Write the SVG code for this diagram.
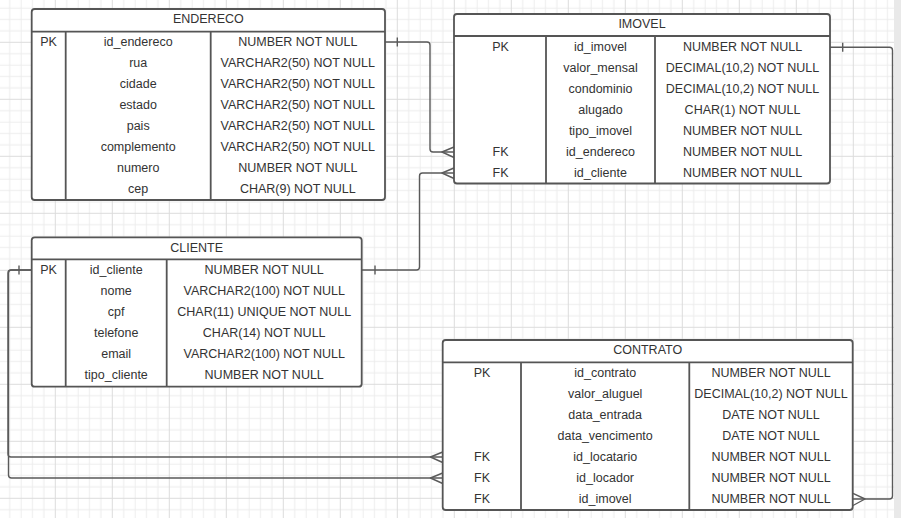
<svg xmlns="http://www.w3.org/2000/svg" width="901" height="518" viewBox="0 0 901 518">
<style>
.bg{fill:#ffffff}
.tbl{fill:#ffffff;stroke:#555555;stroke-width:1.8}
.div{stroke:#555555;stroke-width:1.8;fill:none}
.t{font-family:"Liberation Sans",Arial,sans-serif;font-size:12.5px;fill:#333333;text-anchor:middle}
.c{fill:none;stroke:#5a5a5a;stroke-width:1.4;stroke-linejoin:round}
.gmin{stroke:#ececec;stroke-width:1}
.gmaj{stroke:#dcdcdc;stroke-width:1}
</style>
<defs>
<pattern id="grid" patternUnits="userSpaceOnUse" x="-2.2" y="-15.2" width="57" height="57">
<line class="gmin" x1="11.9" y1="0" x2="11.9" y2="57"/>
<line class="gmin" x1="23.3" y1="0" x2="23.3" y2="57"/>
<line class="gmin" x1="34.7" y1="0" x2="34.7" y2="57"/>
<line class="gmin" x1="46.1" y1="0" x2="46.1" y2="57"/>
<line class="gmin" x1="0" y1="11.9" x2="57" y2="11.9"/>
<line class="gmin" x1="0" y1="23.3" x2="57" y2="23.3"/>
<line class="gmin" x1="0" y1="34.7" x2="57" y2="34.7"/>
<line class="gmin" x1="0" y1="46.1" x2="57" y2="46.1"/>
<line class="gmaj" x1="0.5" y1="0" x2="0.5" y2="57"/>
<line class="gmaj" x1="0" y1="0.5" x2="57" y2="0.5"/>
</pattern>
</defs>
<rect class="bg" x="0" y="0" width="901" height="518"/>
<rect x="0" y="0" width="901" height="518" fill="url(#grid)"/>
<rect x="894" y="0" width="7" height="518" fill="#e9e9e9"/>

<g id="connectors">
<!-- ENDERECO.id_endereco -> IMOVEL.id_endereco -->
<path class="c" d="M385,42 H427 Q430,42 430,45 V149 Q430,152 433,152 H454"/>
<path class="c" d="M397.3,37.5 V46.5"/>
<path class="c" d="M454,147 L442,152 L454,157.5"/>
<!-- CLIENTE.id_cliente -> IMOVEL.id_cliente -->
<path class="c" d="M361.7,270 H416.5 Q419.5,270 419.5,267 V176 Q419.5,173 422.5,173 H454"/>
<path class="c" d="M375,265.5 V274.5"/>
<path class="c" d="M454,168 L442,173 L454,178.5"/>
<!-- IMOVEL.id_imovel -> CONTRATO.id_imovel -->
<path class="c" d="M830,47.3 H889.5 Q892.5,47.3 892.5,50.3 V496 Q892.5,499 889.5,499 H852.7"/>
<path class="c" d="M842.7,42.8 V51.8"/>
<path class="c" d="M853,493.3 L865,499 L853,505.5"/>
<!-- CLIENTE.id_cliente -> CONTRATO.id_locatario / id_locador -->
<path class="c" d="M31.7,270 H11 Q8,270 8,273 V454 Q8,457 11,457 H442.7"/>
<path class="c" d="M31.7,270 H11.5 Q8.5,270 8.5,273 V475 Q8.5,478 11.5,478 H442.7"/>
<path class="c" d="M19,265.5 V274.5"/>
<path class="c" d="M442.7,452 L430.5,457 L442.7,462.5"/>
<path class="c" d="M442.7,473 L430.5,478 L442.7,483.5"/>
</g>

<g id="ENDERECO">
<rect class="tbl" x="31.7" y="9" width="353.3" height="191" rx="3"/>
<path class="div" d="M31.7,31.7 H385 M65.7,31.7 V200 M210.7,31.7 V200"/>
<text class="t" x="208.3" y="23.4">ENDERECO</text>
<text class="t" x="48.5" y="45.7">PK</text>
<text class="t" x="138.2" y="45.7">id_endereco</text>
<text class="t" x="297.8" y="45.7">NUMBER NOT NULL</text>
<text class="t" x="138.2" y="66.7">rua</text>
<text class="t" x="297.8" y="66.7">VARCHAR2(50) NOT NULL</text>
<text class="t" x="138.2" y="87.7">cidade</text>
<text class="t" x="297.8" y="87.7">VARCHAR2(50) NOT NULL</text>
<text class="t" x="138.2" y="108.7">estado</text>
<text class="t" x="297.8" y="108.7">VARCHAR2(50) NOT NULL</text>
<text class="t" x="138.2" y="129.7">pais</text>
<text class="t" x="297.8" y="129.7">VARCHAR2(50) NOT NULL</text>
<text class="t" x="138.2" y="150.7">complemento</text>
<text class="t" x="297.8" y="150.7">VARCHAR2(50) NOT NULL</text>
<text class="t" x="138.2" y="171.7">numero</text>
<text class="t" x="297.8" y="171.7">NUMBER NOT NULL</text>
<text class="t" x="138.2" y="192.7">cep</text>
<text class="t" x="297.8" y="192.7">CHAR(9) NOT NULL</text>
</g>

<g id="IMOVEL">
<rect class="tbl" x="454" y="14" width="376" height="169.5" rx="3"/>
<path class="div" d="M454,36 H830 M546,36 V183.5 M655,36 V183.5"/>
<text class="t" x="642" y="28.4">IMOVEL</text>
<text class="t" x="500.5" y="50.5">PK</text>
<text class="t" x="600.5" y="50.5">id_imovel</text>
<text class="t" x="742.5" y="50.5">NUMBER NOT NULL</text>
<text class="t" x="600.5" y="71.5">valor_mensal</text>
<text class="t" x="742.5" y="71.5">DECIMAL(10,2) NOT NULL</text>
<text class="t" x="600.5" y="92.5">condominio</text>
<text class="t" x="742.5" y="92.5">DECIMAL(10,2) NOT NULL</text>
<text class="t" x="600.5" y="113.5">alugado</text>
<text class="t" x="742.5" y="113.5">CHAR(1) NOT NULL</text>
<text class="t" x="600.5" y="134.5">tipo_imovel</text>
<text class="t" x="742.5" y="134.5">NUMBER NOT NULL</text>
<text class="t" x="500.5" y="155.5">FK</text>
<text class="t" x="600.5" y="155.5">id_endereco</text>
<text class="t" x="742.5" y="155.5">NUMBER NOT NULL</text>
<text class="t" x="500.5" y="176.5">FK</text>
<text class="t" x="600.5" y="176.5">id_cliente</text>
<text class="t" x="742.5" y="176.5">NUMBER NOT NULL</text>
</g>

<g id="CLIENTE">
<rect class="tbl" x="31.7" y="237.3" width="330" height="149.4" rx="3"/>
<path class="div" d="M31.7,259.3 H361.7 M65.7,259.3 V386.7 M166.7,259.3 V386.7"/>
<text class="t" x="196.7" y="251.7">CLIENTE</text>
<text class="t" x="48.5" y="273.5">PK</text>
<text class="t" x="116.2" y="273.5">id_cliente</text>
<text class="t" x="264.2" y="273.5">NUMBER NOT NULL</text>
<text class="t" x="116.2" y="294.5">nome</text>
<text class="t" x="264.2" y="294.5">VARCHAR2(100) NOT NULL</text>
<text class="t" x="116.2" y="315.5">cpf</text>
<text class="t" x="264.2" y="315.5">CHAR(11) UNIQUE NOT NULL</text>
<text class="t" x="116.2" y="336.5">telefone</text>
<text class="t" x="264.2" y="336.5">CHAR(14) NOT NULL</text>
<text class="t" x="116.2" y="357.5">email</text>
<text class="t" x="264.2" y="357.5">VARCHAR2(100) NOT NULL</text>
<text class="t" x="116.2" y="378.5">tipo_cliente</text>
<text class="t" x="264.2" y="378.5">NUMBER NOT NULL</text>
</g>

<g id="CONTRATO">
<rect class="tbl" x="442.7" y="340" width="410" height="170" rx="3"/>
<path class="div" d="M442.7,362.3 H852.7 M521,362.3 V510 M689.3,362.3 V510"/>
<text class="t" x="647.7" y="354">CONTRATO</text>
<text class="t" x="482" y="376.5">PK</text>
<text class="t" x="605.2" y="376.5">id_contrato</text>
<text class="t" x="771" y="376.5">NUMBER NOT NULL</text>
<text class="t" x="605.2" y="397.5">valor_aluguel</text>
<text class="t" x="771" y="397.5">DECIMAL(10,2) NOT NULL</text>
<text class="t" x="605.2" y="418.5">data_entrada</text>
<text class="t" x="771" y="418.5">DATE NOT NULL</text>
<text class="t" x="605.2" y="439.5">data_vencimento</text>
<text class="t" x="771" y="439.5">DATE NOT NULL</text>
<text class="t" x="482" y="460.5">FK</text>
<text class="t" x="605.2" y="460.5">id_locatario</text>
<text class="t" x="771" y="460.5">NUMBER NOT NULL</text>
<text class="t" x="482" y="481.5">FK</text>
<text class="t" x="605.2" y="481.5">id_locador</text>
<text class="t" x="771" y="481.5">NUMBER NOT NULL</text>
<text class="t" x="482" y="502.5">FK</text>
<text class="t" x="605.2" y="502.5">id_imovel</text>
<text class="t" x="771" y="502.5">NUMBER NOT NULL</text>
</g>
</svg>
